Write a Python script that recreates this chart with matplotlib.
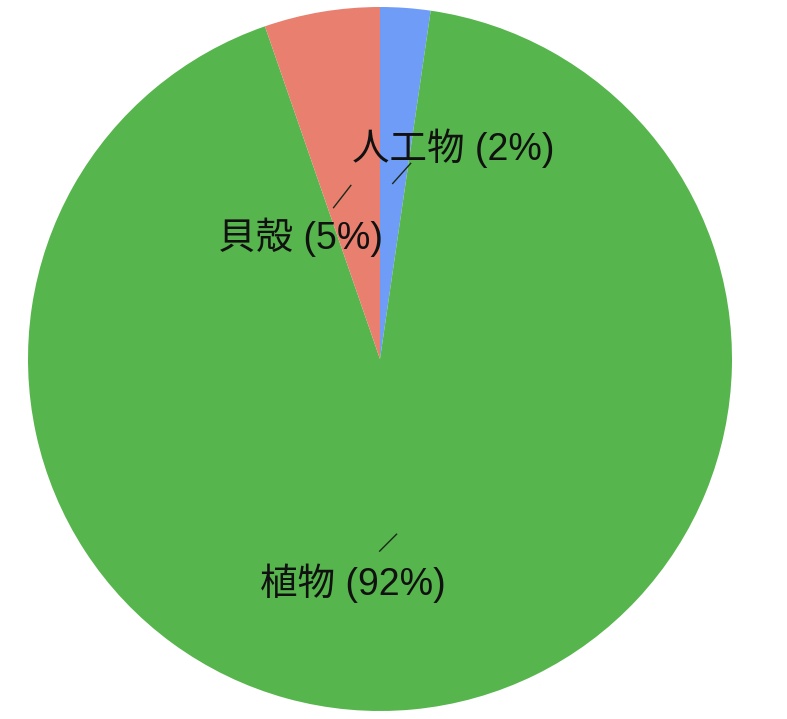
import numpy as np
import matplotlib
matplotlib.use("Agg")
import matplotlib.pyplot as plt

categories = ["人工物", "植物", "貝殻"]
values = [2.3, 92.4, 5.3]
colors = ["#6e9cf6", "#56b54c", "#e87f6f"]

# label layout (data units, pie radius = 1)
label_pos = [(-0.080, 0.598), (-0.341, -0.638), (-0.460, 0.347)]
line_dir = [(0.051, 0.057), (0.048, 0.048), (0.049, 0.063)]

W, H = 787, 719
fig = plt.figure(figsize=(W / 100, H / 100), dpi=100)
ax = fig.add_axes([0, 0, 1, 1])
cx, cy, R = 380, 359, 352

wedges, _ = ax.pie(values, colors=colors, startangle=90, counterclock=False,
                   radius=1, center=(0, 0), frame=True,
                   wedgeprops=dict(linewidth=0))
ax.set_xlim(-cx / R, (W - cx) / R)
ax.set_ylim(-(H - cy) / R, cy / R)
ax.set_aspect("auto")
ax.axis("off")

total = sum(values)
fam = ["Liberation Sans", "Noto Sans CJK JP"]
for i, w in enumerate(wedges):
    mid = np.deg2rad((w.theta1 + w.theta2) / 2)
    px, py = 0.5 * np.cos(mid), 0.5 * np.sin(mid)
    dx, dy = line_dir[i]
    if i == 0:
        xs, ys = [px, px + dx], [py, py + dy]
    else:
        xs, ys = [px, px - dx], [py, py - dy]
    ax.plot(xs, ys, color="#1a2a1a", lw=1.0)
    pct = round(values[i] / total * 100)
    tx, ty = label_pos[i]
    ax.text(tx, ty, f"{categories[i]} ({pct}%)", ha="left", va="center",
            fontsize=27, family=fam, color="#111111")

fig.savefig("out.png", dpi=100)
